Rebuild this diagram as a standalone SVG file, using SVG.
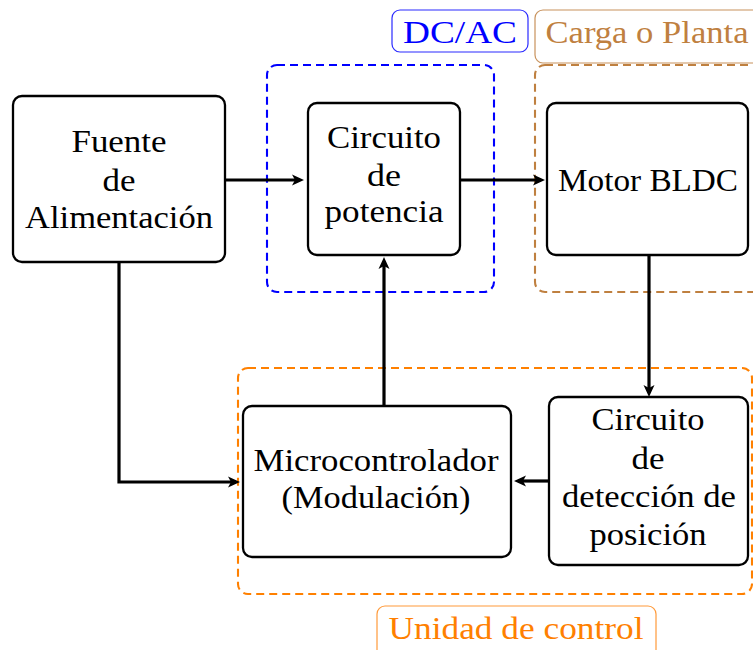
<svg xmlns="http://www.w3.org/2000/svg" width="753" height="650" viewBox="0 0 753 650">
<defs>
<style>
.node{fill:#fff;stroke:#000;stroke-width:2.3}
.t{font-family:"Liberation Serif","Times New Roman",serif;font-size:30.5px;fill:#000;text-anchor:middle}
.con{fill:none;stroke:#000;stroke-width:3.2}
.grp{fill:none;stroke-width:2.1;stroke-dasharray:8 5}
.lbl{fill:#fff;stroke-width:1.2}
</style>
<marker id="ah" markerUnits="userSpaceOnUse" markerWidth="14" markerHeight="12" refX="8" refY="0" viewBox="0 -6 14 12" orient="auto">
<path d="M12,0 L0,-5.5 L3,0 L0,5.5 z" fill="#000"/>
</marker>
</defs>
<g id="groups">
<rect class="grp" x="267" y="65" width="227" height="227" rx="10" stroke="#0000ff"/>
<rect class="grp" x="535" y="65" width="240" height="227" rx="10" stroke="#bf8040"/>
<rect class="grp" x="238" y="368" width="514" height="226" rx="10" stroke="#ff8000"/>
</g>
<g id="label-dcac">
<rect class="lbl" x="392" y="10" width="136" height="42" rx="8" stroke="#2a2aff"/>
<text class="t" x="460" y="43" style="fill:#0000ff" textLength="114" lengthAdjust="spacingAndGlyphs">DC/AC</text>
</g>
<g id="label-carga">
<rect class="lbl" x="535" y="10" width="240" height="53" rx="8" stroke="#c8925c"/>
<text class="t" x="647" y="43" style="fill:#bf8040" textLength="203" lengthAdjust="spacingAndGlyphs">Carga o Planta</text>
</g>
<g id="label-unidad">
<rect class="lbl" x="377" y="606" width="279" height="60" rx="8" stroke="#ff9a3a"/>
<text class="t" x="516" y="639" style="fill:#ff8000" textLength="255" lengthAdjust="spacingAndGlyphs">Unidad de control</text>
</g>
<g id="connectors">
<line class="con" x1="226" y1="180" x2="300" y2="180" marker-end="url(#ah)"/>
<line class="con" x1="460" y1="180" x2="541" y2="180" marker-end="url(#ah)"/>
<line class="con" x1="649" y1="255" x2="649" y2="393" marker-end="url(#ah)"/>
<line class="con" x1="549" y1="481" x2="518" y2="481" marker-end="url(#ah)"/>
<line class="con" x1="384" y1="406" x2="384" y2="261" marker-end="url(#ah)"/>
<polyline class="con" points="119,262 119,482 236,482" marker-end="url(#ah)"/>
</g>
<g id="fuente">
<rect class="node" x="13" y="96" width="212" height="166" rx="9"/>
<text class="t" x="119" y="152" textLength="95" lengthAdjust="spacingAndGlyphs">Fuente</text>
<text class="t" x="119" y="191" textLength="33" lengthAdjust="spacingAndGlyphs">de</text>
<text class="t" x="119" y="228" textLength="188" lengthAdjust="spacingAndGlyphs">Alimentación</text>
</g>
<g id="circuito-potencia">
<rect class="node" x="308" y="103" width="152" height="152" rx="9"/>
<text class="t" x="384" y="148" textLength="114" lengthAdjust="spacingAndGlyphs">Circuito</text>
<text class="t" x="384" y="186" textLength="34" lengthAdjust="spacingAndGlyphs">de</text>
<text class="t" x="384" y="222" textLength="119" lengthAdjust="spacingAndGlyphs">potencia</text>
</g>
<g id="motor">
<rect class="node" x="547" y="103" width="201" height="152" rx="9"/>
<text class="t" x="648" y="191" textLength="180" lengthAdjust="spacingAndGlyphs">Motor BLDC</text>
</g>
<g id="deteccion">
<rect class="node" x="549" y="397" width="199" height="168" rx="9"/>
<text class="t" x="648" y="430" textLength="113" lengthAdjust="spacingAndGlyphs">Circuito</text>
<text class="t" x="648" y="469" textLength="33" lengthAdjust="spacingAndGlyphs">de</text>
<text class="t" x="649" y="507" textLength="174" lengthAdjust="spacingAndGlyphs">detección de</text>
<text class="t" x="648" y="545" textLength="117" lengthAdjust="spacingAndGlyphs">posición</text>
</g>
<g id="micro">
<rect class="node" x="243" y="406" width="268" height="151" rx="9"/>
<text class="t" x="376" y="471" textLength="245" lengthAdjust="spacingAndGlyphs">Microcontrolador</text>
<text class="t" x="376" y="508" textLength="189" lengthAdjust="spacingAndGlyphs">(Modulación)</text>
</g>
</svg>
